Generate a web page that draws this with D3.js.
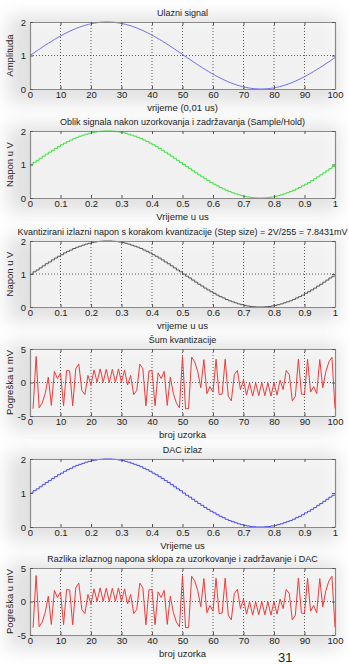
<!DOCTYPE html>
<html>
<head>
<meta charset="utf-8">
<script src="https://cdn.jsdelivr.net/npm/d3@7"></script>
<style>
  body { margin: 0; background: #fff; }
  svg text { font-family: "Liberation Sans", Arial, sans-serif; fill: #222; }
</style>
</head>
<body>
<svg id="chart" width="349" height="664"></svg>
<script>
// input signal, 100 samples (V)
var inputSignal = [
  1.0000, 1.0628, 1.1253, 1.1874, 1.2487, 1.3090, 1.3681, 1.4258, 1.4818, 1.5358,
  1.5878, 1.6374, 1.6845, 1.7290, 1.7705, 1.8090, 1.8443, 1.8763, 1.9048, 1.9298,
  1.9511, 1.9686, 1.9823, 1.9921, 1.9980, 2.0000, 1.9980, 1.9921, 1.9823, 1.9686,
  1.9511, 1.9298, 1.9048, 1.8763, 1.8443, 1.8090, 1.7705, 1.7290, 1.6845, 1.6374,
  1.5878, 1.5358, 1.4818, 1.4258, 1.3681, 1.3090, 1.2487, 1.1874, 1.1253, 1.0628,
  1.0000, 0.9372, 0.8747, 0.8126, 0.7513, 0.6910, 0.6319, 0.5742, 0.5182, 0.4642,
  0.4122, 0.3626, 0.3155, 0.2710, 0.2295, 0.1910, 0.1557, 0.1237, 0.0952, 0.0702,
  0.0489, 0.0314, 0.0177, 0.0079, 0.0020, 0.0000, 0.0020, 0.0079, 0.0177, 0.0314,
  0.0489, 0.0702, 0.0952, 0.1237, 0.1557, 0.1910, 0.2295, 0.2710, 0.3155, 0.3626,
  0.4122, 0.4642, 0.5182, 0.5742, 0.6319, 0.6910, 0.7513, 0.8126, 0.8747, 0.9372
];

// quantization error per sample (mV)
var quantNoise = [
  -3.92,  3.88, -3.77, -3.07, -1.63,  0.79, -3.42,  1.67,  0.60,  1.43,
  -3.47,  1.79,  1.73, -3.48,  2.04,  2.75, -1.19, -1.80,  1.06, -0.36,
   1.88,  0.04,  2.03,  0.04,  1.97,  0.00,  1.97,  0.04,  2.03,  0.04,
   1.88, -0.36,  1.06, -1.80, -1.19,  2.75,  2.04, -3.48,  1.73,  1.79,
  -3.47,  1.43,  0.60,  1.67, -3.42,  0.79, -1.63, -3.07, -3.77,  3.88,
  -3.92, -3.88,  3.77,  3.07,  1.63, -0.79,  3.42, -1.67, -0.60, -1.43,
   3.47, -1.79, -1.73,  3.48, -2.04, -2.75,  1.19,  1.80, -1.06,  0.36,
  -1.88, -0.04, -2.03, -0.04, -1.97,  0.00, -1.97, -0.04, -2.03, -0.04,
  -1.88,  0.36, -1.06,  1.80,  1.19, -2.75, -2.04,  3.48, -1.73, -1.79,
   3.47, -1.43, -0.60, -1.67,  3.42, -0.79,  1.63,  3.07,  3.77, -3.88
];

var sampleTicks = [0, 10, 20, 30, 40, 50, 60, 70, 80, 90, 100];
var timeTicks = [0, 0.1, 0.2, 0.3, 0.4, 0.5, 0.6, 0.7, 0.8, 0.9, 1];
var voltTicks = [0, 1, 2];
var noiseTicks = [-5, 0, 5];

var L = 30, R = 335;
var svg = d3.select("#chart");

var defs = svg.append("defs");
defs.append("filter").attr("id", "blur")
  .attr("x", "-20%").attr("y", "-40%").attr("width", "140%").attr("height", "180%")
  .append("feGaussianBlur").attr("stdDeviation", 9);

// samples as points
var n = inputSignal.length;
var inputPts = inputSignal.map((v, i) => ({x: i * 100 / (n - 1), y: v}));
var holdPts = inputSignal.map((v, i) => ({x: i / 100, y: v}));
holdPts.push({x: 1, y: inputSignal[n - 1]});
var quantPts = inputSignal.map((v, i) => ({x: i / 100, y: v + quantNoise[i] / 1000}));
quantPts.push({x: 1, y: quantPts[n - 1].y});
var noisePts = quantNoise.map((e, i) => ({x: i + 1, y: e}));

var panels = [
  {top: 22, bottom: 89, title: "Ulazni signal", xlabel: "vrijeme (0,01 us)", ylabel: "Amplituda",
   xd: [0, 100], xt: sampleTicks, yd: [0, 2], yt: voltTicks, grid: true, pts: inputPts, color: "#6e6ef0", step: false},
  {top: 131, bottom: 198, title: "Oblik signala nakon uzorkovanja i zadržavanja (Sample/Hold)", xlabel: "Vrijeme u us", ylabel: "Napon u V",
   xd: [0, 1], xt: timeTicks, yd: [0, 2], yt: voltTicks, grid: false, pts: holdPts, color: "#3ee03e", step: true},
  {top: 241, bottom: 307, title: "Kvantizirani izlazni napon s korakom kvantizacije (Step size) = 2V/255 = 7.8431mV", xlabel: "vrijeme u  us", ylabel: "Napon u V",
   xd: [0, 1], xt: timeTicks, yd: [0, 2], yt: voltTicks, grid: true, pts: quantPts, color: "#555", step: true},
  {top: 349, bottom: 416, title: "Šum kvantizacije", xlabel: "broj uzorka", ylabel: "Pogreška u mV",
   xd: [0, 100], xt: sampleTicks, yd: [-5, 5], yt: noiseTicks, grid: true, pts: noisePts, color: "#ee3a3a", step: false},
  {top: 459, bottom: 527, title: "DAC izlaz", xlabel: "Vrijeme us", ylabel: "",
   xd: [0, 1], xt: timeTicks, yd: [0, 2], yt: voltTicks, grid: false, pts: quantPts, color: "#4848ee", step: true},
  {top: 568, bottom: 635, title: "Razlika izlaznog napona sklopa za uzorkovanje i zadržavanje i DAC", xlabel: "broj uzorka", ylabel: "Pogreška u mV",
   xd: [0, 100], xt: sampleTicks, yd: [-5, 5], yt: noiseTicks, grid: true, pts: noisePts, color: "#ee3a3a", step: false}
];

// soft grey shading behind the figures
panels.forEach(p => {
  svg.append("rect")
    .attr("x", 8).attr("y", p.top - 6)
    .attr("width", 330).attr("height", p.bottom - p.top + 20)
    .attr("fill", "#bdbdbd").attr("opacity", 0.45)
    .attr("filter", "url(#blur)");
});

panels.forEach(p => {
  var g = svg.append("g");
  var x = d3.scaleLinear().domain(p.xd).range([L, R]);
  var y = d3.scaleLinear().domain(p.yd).range([p.bottom, p.top]);

  g.append("rect")
    .attr("x", L).attr("y", p.top)
    .attr("width", R - L).attr("height", p.bottom - p.top)
    .attr("fill", "#fff").attr("opacity", 0.55);

  if (p.grid) {
    g.append("g").selectAll("line")
      .data(p.xt.slice(1, -1))
      .join("line")
      .attr("x1", d => x(d)).attr("x2", d => x(d))
      .attr("y1", p.top).attr("y2", p.bottom)
      .attr("stroke", "#333").attr("stroke-width", 0.8)
      .attr("stroke-dasharray", "1,2");
    g.append("g").selectAll("line")
      .data(p.yt.slice(1, -1))
      .join("line")
      .attr("x1", L).attr("x2", R)
      .attr("y1", d => y(d)).attr("y2", d => y(d))
      .attr("stroke", "#333").attr("stroke-width", 0.8)
      .attr("stroke-dasharray", "1,2");
  }

  var line = d3.line()
    .x(d => x(d.x))
    .y(d => y(d.y))
    .curve(p.step ? d3.curveStepAfter : d3.curveLinear);

  g.append("path")
    .datum(p.pts)
    .attr("d", line)
    .attr("fill", "none")
    .attr("stroke", p.color)
    .attr("stroke-width", 1);

  var fmt = d => String(d);

  var xb = g.append("g").attr("transform", "translate(0," + p.bottom + ")")
    .call(d3.axisBottom(x).tickValues(p.xt).tickFormat(fmt).tickSizeInner(-3).tickSizeOuter(0).tickPadding(2));
  var xt = g.append("g").attr("transform", "translate(0," + p.top + ")")
    .call(d3.axisTop(x).tickValues(p.xt).tickFormat("").tickSizeInner(-3).tickSizeOuter(0));
  var yl = g.append("g").attr("transform", "translate(" + L + ",0)")
    .call(d3.axisLeft(y).tickValues(p.yt).tickFormat(fmt).tickSizeInner(-3).tickSizeOuter(0).tickPadding(4));
  var yr = g.append("g").attr("transform", "translate(" + R + ",0)")
    .call(d3.axisRight(y).tickValues(p.yt).tickFormat("").tickSizeInner(-3).tickSizeOuter(0));

  [xb, xt, yl, yr].forEach(a => {
    a.select(".domain").attr("stroke", "#8a8a8a").attr("stroke-width", 1.2);
    a.selectAll(".tick line").attr("stroke", "#555");
    a.selectAll("text").attr("font-size", 9.5).attr("fill", "#222")
      .attr("font-family", "'Liberation Sans', Arial, sans-serif");
  });

  g.append("text")
    .attr("x", (L + R) / 2).attr("y", p.top - 6)
    .attr("text-anchor", "middle").attr("font-size", 9)
    .text(p.title);

  g.append("text")
    .attr("x", (L + R) / 2).attr("y", p.bottom + 22)
    .attr("text-anchor", "middle").attr("font-size", 9.5)
    .text(p.xlabel);

  if (p.ylabel) {
    g.append("text")
      .attr("transform", "translate(13," + (p.top + p.bottom) / 2 + ") rotate(-90)")
      .attr("text-anchor", "middle").attr("font-size", 9.5)
      .text(p.ylabel);
  }
});

svg.append("text")
  .attr("x", 278).attr("y", 662)
  .attr("font-size", 13)
  .text("31");
</script>
</body>
</html>
